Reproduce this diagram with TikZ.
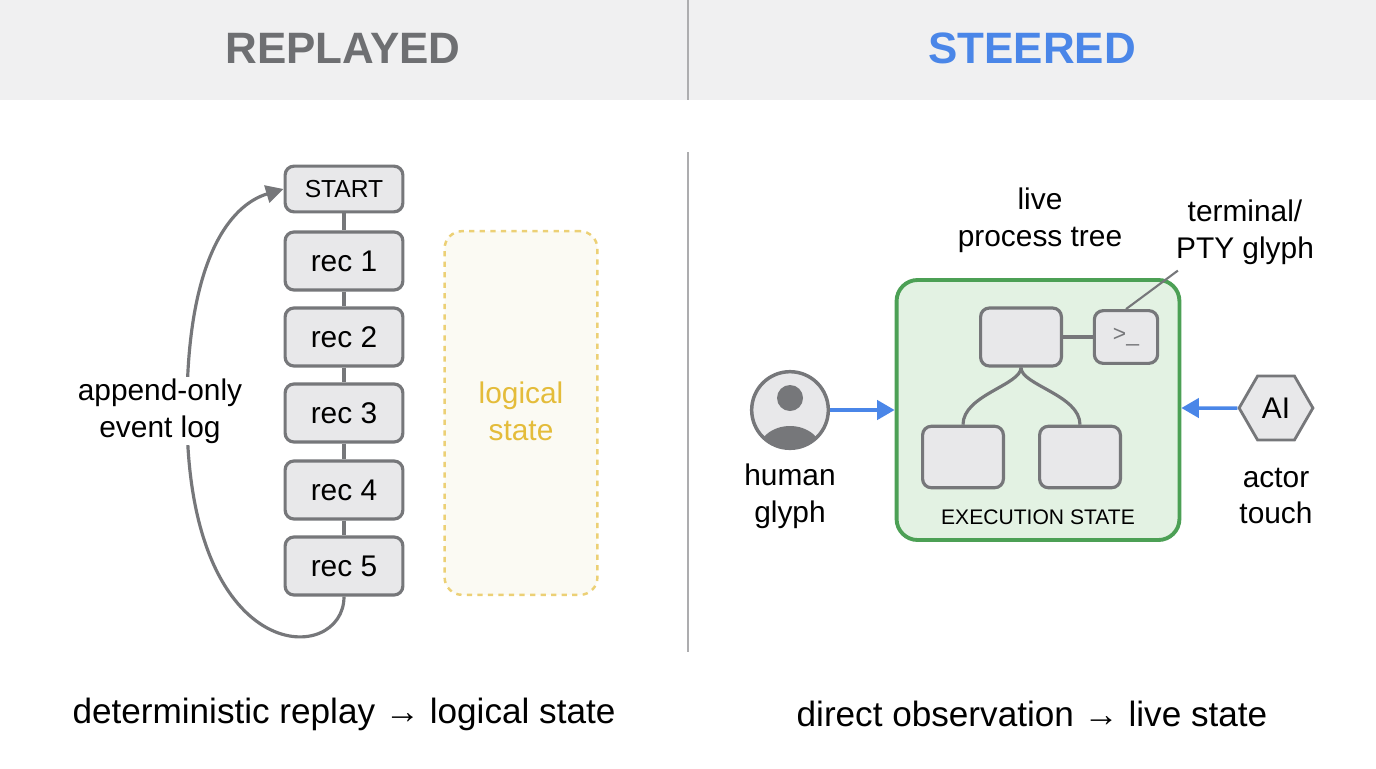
\documentclass[tikz,border=0pt]{standalone}
\usepackage{fontspec}
\setmainfont{Liberation Sans}
\usetikzlibrary{positioning,shapes.geometric,arrows.meta}
\begin{document}
\begin{tikzpicture}[x=0.02cm,y=-0.02cm]
  \definecolor{band}{HTML}{F0F0F1}
  \definecolor{boxfill}{HTML}{E8E8EA}
  \definecolor{boxline}{HTML}{76777A}
  \definecolor{title}{HTML}{6E6F72}
  \definecolor{steer}{HTML}{4A86E8}
  \definecolor{gold}{HTML}{E4BC3A}
  \definecolor{goldfill}{HTML}{FBFAF3}
  \definecolor{green}{HTML}{4CA055}
  \definecolor{greenfill}{HTML}{E3F2E3}
  \tikzstyle{rec}     = [rectangle, rounded corners=5pt, draw=boxline, line width=1.8pt, fill=boxfill, minimum width=67pt, minimum height=33pt, font=\fontsize{17}{20}\selectfont]
  \tikzstyle{proc}    = [rectangle, rounded corners=5pt, draw=boxline, line width=1.8pt, fill=boxfill, minimum width=46pt, minimum height=33pt]
  \tikzstyle{label}   = [align=center, font=\fontsize{17}{21}\selectfont]
  \tikzstyle{link}    = [draw=boxline, line width=1.8pt]
  \tikzstyle{actor}   = [draw=steer, line width=2pt, -{Triangle[length=10pt,width=11pt]}]
  % frame and headers
  \useasboundingbox (0,0) rectangle (1376,768);
  \fill[white] (0,0) rectangle (1376,768);
  \fill[band] (0,0) rectangle (1376,100);
  \draw[boxline!60, line width=1pt] (688,0) -- (688,100);
  \draw[boxline!60, line width=1pt] (688,152) -- (688,652);
  \node[font=\fontsize{25}{30}\selectfont\bfseries, text=title] (replayed) at (343,48) {REPLAYED};
  \node[font=\fontsize{25}{30}\selectfont\bfseries, text=steer] (steered)  at (1032,48) {STEERED};
  % left: event log
  \node[rec, minimum height=26pt, font=\fontsize{14}{16}\selectfont] (start) at (344,189) {START};
  \foreach \i/\y in {1/261,2/337,3/413,4/490,5/566}
    \node[rec] (rec\i) at (344,\y) {rec \i};
  \draw[link] (start) -- (rec1);
  \foreach \i/\j in {1/2,2/3,3/4,4/5}
    \draw[link] (rec\i) -- (rec\j);
  \draw[link, -{Triangle[length=10pt,width=10pt]}] (rec5.south) .. controls (344,665) and (190,670) .. (187,420) .. controls (185,260) and (230,205) .. (start.west);
  \node[label, fill=white, inner sep=1pt] (eventlog) at (160,411) {append-only\\event log};
  \node[rectangle, rounded corners=10pt, draw=gold!70, dashed, line width=1.4pt, fill=goldfill, minimum width=87pt, minimum height=207pt] (logical) at (521,413) {};
  \node[label, text=gold] (logicaltext) at (521,411) {logical\\state};
  \node[font=\fontsize{20}{24}\selectfont] (leftcap) at (344,714) {deterministic replay → logical state};
  % right: execution state
  \node[rectangle, rounded corners=12pt, draw=green, line width=2.2pt, fill=greenfill, minimum width=161pt, minimum height=148pt] (exec) at (1038,410) {};
  \node[proc] (parent) at (1021,337) {};
  \node[proc, minimum width=36pt, minimum height=30pt, font=\fontsize{13}{14}\selectfont, text=boxline] (term) at (1126,337) {>\_};
  \node[proc, minimum height=35pt] (childa) at (963,457) {};
  \node[proc, minimum height=35pt] (childb) at (1080,457) {};
  \draw[link] (parent) -- (term);
  \draw[link] (parent.south) .. controls (1021,385) and (963,395) .. (childa.north);
  \draw[link] (parent.south) .. controls (1021,385) and (1080,395) .. (childb.north);
  \node[font=\fontsize{12}{14}\selectfont] (exectext) at (1038,517) {EXECUTION STATE};
  \node[label] (tree) at (1040,220) {live\\process tree};
  \node[label] (pty) at (1245,232) {terminal/\\PTY glyph};
  \draw[boxline, line width=1.2pt] (pty.south west) ++(8,0) coordinate (ptyfoot) -- (term.north);
  % actors
  \node[circle, draw=boxline, line width=1.6pt, fill=boxfill, minimum size=44pt] (human) at (790,410) {};
  \begin{scope}
    \clip (790,410) circle (38);
    \fill[boxline] (790,398) circle (13);
    \fill[boxline] (790,452) ellipse (32 and 26);
  \end{scope}
  \draw[boxline, line width=1.6pt] (790,410) circle (38);
  \draw[actor] (human) -- (exec.west |- human);
  \node[label] (humantext) at (790,496) {human\\glyph};
  \node[regular polygon, regular polygon sides=6, draw=boxline, line width=1.6pt, fill=boxfill, minimum size=42pt, inner sep=0pt, font=\fontsize{17}{20}\selectfont] (ai) at (1276,408) {AI};
  \draw[actor] (ai) -- (exec.east |- ai);
  \node[label] (aitext) at (1276,496) {actor\\touch};
  \node[font=\fontsize{20}{24}\selectfont] (rightcap) at (1032,714) {direct observation → live state};
\end{tikzpicture}
\end{document}
